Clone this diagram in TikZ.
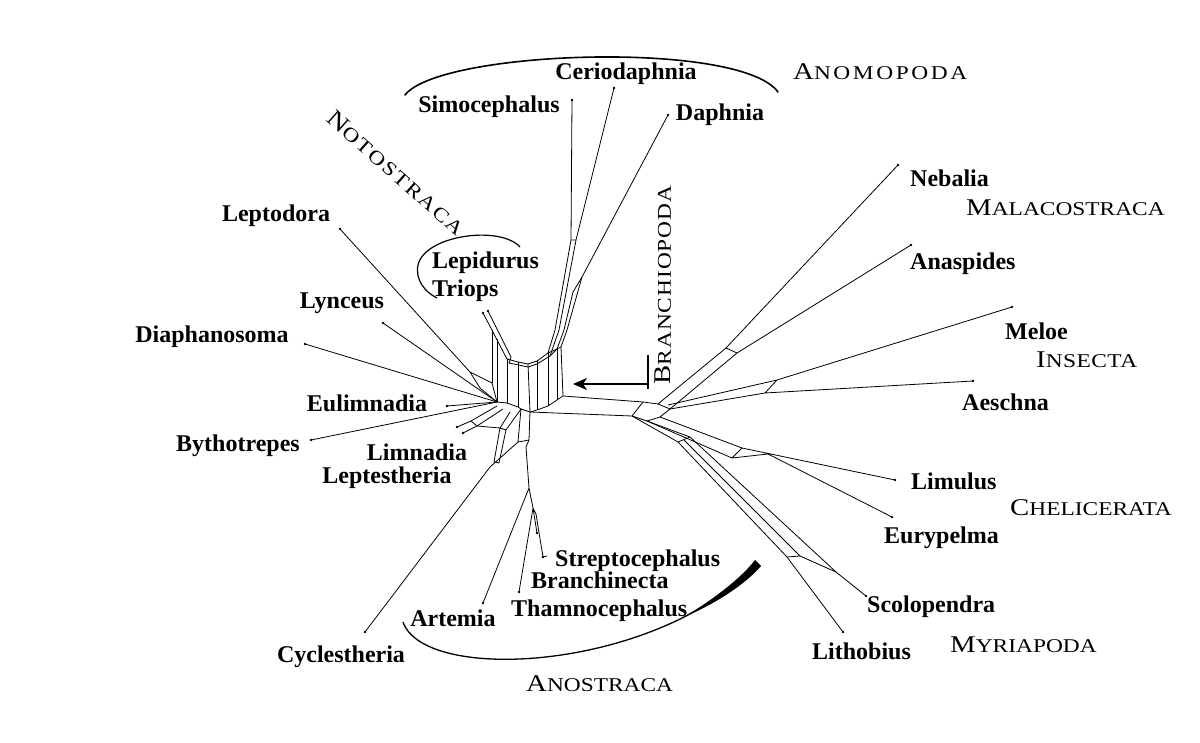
\documentclass[tikz,border=0pt]{standalone}
\usepackage{fontspec}
\usepackage{graphicx}
\setmainfont{Liberation Serif}
\usetikzlibrary{arrows.meta,calc,positioning}
\newcommand{\grp}[3][0]{\scalebox{1.2}[1]{\addfontfeatures{LetterSpace=#1}\fontsize{24}{24}\selectfont #2\fontsize{19.5}{19.5}\selectfont #3}}
\tikzset{
  taxon/.style={font=\fontsize{24}{24}\selectfont\bfseries,inner sep=0pt},
  clade/.style={inner sep=0pt},
  edge/.style={line width=0.8pt},
  bracket/.style={line width=1.6pt,line cap=round}
}

\begin{document}
\begin{tikzpicture}[x=1pt,y=-1pt]
  \useasboundingbox (0,0) rectangle (1200,743);
  % leaf ends
  \foreach \n/\x/\y in {simo/572/100, cerio/614/88, daph/668/115, lepto/340/229, lync/383/323, diaph/305/344,
      eulim/447/406, bytho/311/440, limna/457/427, lepte/463/433, cycl/365/632, artem/483/603, thamno/519/592,
      branchi/537/533, strepto/543/557, lepid/483/313, triops/488/311, nebal/898/165, anasp/911/245,
      meloe/1012/307, aesch/973/381, limul/895/480, euryp/892/517, scolo/866/596, litho/843/632}
    {\coordinate (\n) at (\x,\y); \fill (\n) circle (1.3pt);}
  % inner splits
  \foreach \n/\x/\y in {h0/497/402, b1/507/403, b2/518/407, b3/530/412, b4/537/410, b5/548/406, b6/557/400, b7/563/396,
      t1/507/359, t2/518/362, t3/528/364, t4/537/361, t5/548/353, t6/557/349, t7/561/347,
      u1/509/363, u2/528/367, u3/537/364, u4/550/356, n2/511/357, v1/492/330, v1b/492/383, v2/497/339, v2b/497/396,
      d1/555/330, d2/559/330, d3/564/330, d4/567/330, d5/571/240, d6/576/240, d7/573/292, d8/582/277,
      r1/643/402, r2/658/404, r3/632/416, r4/647/421, r5/660/417, r6/670/409,
      m0/664/399, m1/726/348, m2/737/353, i0/668/405, i1/765/393, i2/777/380,
      c1/742/448, c2/732/458, c3/768/454, y0/684/440, y1/678/442, y2/690/437, y3/836/572, y4/787/557, y5/800/556,
      l1/470/372, l2/480/388, k1/497/406, k2/503/409, k3/510/412, g0/471/421, g1/477/426, g2/500/428, g3/494/462,
      g4/506/430, g5/499/463, a1/521/409, a2/518/442, a3/529/440, a4/526/447, a5/529/488, a6/533/508, a7/536/514,
      cy/490/467, sp/547/556}
    {\coordinate (\n) at (\x,\y);}
  \draw[edge] (lepid) -- (t1) -- (t2) -- (t3) -- (t4) -- (t5) -- (t6) -- (t7);
  \draw[edge] (triops) -- (n2) -- (u1) -- (u2) -- (u3) -- (u4) -- (t6);
  \draw[edge] (h0) -- (b1) -- (b2) -- (a1) -- (b3) -- (b4) -- (b5) -- (b6) -- (b7);
  \foreach \p/\q in {t1/b1, t2/b2, t3/b3, t4/b4, t5/b5, t6/b6, t7/b7, v1/v1b, v2/v2b, v1b/h0, v2b/h0}
    \draw[edge] (\p) -- (\q);
  \draw[edge] (t5) -- (d1) -- (d5) -- (simo);
  \draw[edge] (u4) -- (d2) -- (d6) -- (cerio);
  \draw[edge] (t7) -- (d4) -- (d8) -- (daph);
  \draw[edge] (t6) -- (d3) -- (d7) -- (d8) (d5) -- (d6);
  \draw[edge] (b7) -- (r1) -- (r2) -- (m0) -- (m1) -- (nebal);
  \draw[edge] (b3) -- (r3) -- (r4) -- (r5) -- (r6) -- (r2) (r1) -- (r3);
  \draw[edge] (r6) -- (m2) -- (anasp) (m1) -- (m2);
  \draw[edge] (r6) -- (i1) -- (aesch) (i0) -- (i2) -- (meloe) (i1) -- (i2);
  \draw[edge] (r5) -- (c1) -- (limul) (r4) -- (c2) -- (c3) -- (euryp) (c1) -- (c2);
  \draw[edge] (r4) -- (y2) -- (y3) -- (scolo) (r3) -- (y1) -- (y4) -- (litho) (y1) -- (y2);
  \draw[edge] (y0) -- (y5) -- (y3) (y4) -- (y5);
  \draw[edge] (lepto) -- (l1) -- (v1b) (l1) -- (l2) -- (h0);
  \foreach \t in {lync, diaph, eulim, bytho} \draw[edge] (\t) -- (h0);
  \draw[edge] (k1) -- (g0) -- (limna) (k2) -- (g1) -- (lepte) (g0) -- (g1);
  \draw[edge] (k3) -- (g2) -- (g3) (a1) -- (g4) -- (g5) (g2) -- (g4) (g3) -- (g5) (g1) -- (g2);
  \draw[edge] (a1) -- (a2) -- (cy) -- (cycl) (b3) -- (a3) -- (a4) (a2) -- (a3);
  \draw[edge] (a4) -- (a5) -- (artem) (a5) -- (a6) -- (thamno) (a6) -- (branchi) (a6) -- (a7) -- (strepto) -- (sp);
  % taxa
  \node[taxon] (tsimo) at (489,107) {Simocephalus};
  \node[taxon] (tcerio) at (626,74) {Ceriodaphnia};
  \node[taxon] (tdaph) at (720,115) {Daphnia};
  \node[taxon] (tlepto) at (276,216) {Leptodora};
  \node[taxon,anchor=west] (tlepid) at (432,263) {Lepidurus};
  \node[taxon,anchor=west] (ttriops) at (432,291) {Triops};
  \node[taxon] (tlync) at (342,303) {Lynceus};
  \node[taxon] (tdiaph) at (212,337) {Diaphanosoma};
  \node[taxon] (teulim) at (367,403) {Eulimnadia};
  \node[taxon] (tbytho) at (238,446) {Bythotrepes};
  \node[taxon] (tlimna) at (417,452) {Limnadia};
  \node[taxon] (tlepte) at (387,478) {Leptestheria};
  \node[taxon,anchor=west] (tstrepto) at (555,561) {Streptocephalus};
  \node[taxon,anchor=west] (tbranchi) at (531,580) {Branchinecta};
  \node[taxon,anchor=west] (tthamno) at (511,611) {Thamnocephalus};
  \node[taxon] (tartem) at (453,618) {Artemia};
  \node[taxon] (tcycl) at (341,657) {Cyclestheria};
  \node[taxon,anchor=west] (tnebal) at (910,178) {Nebalia};
  \node[taxon,anchor=west] (tanasp) at (910,264) {Anaspides};
  \node[taxon,anchor=west] (tmeloe) at (1005,331) {Meloe};
  \node[taxon,anchor=west] (taesch) at (962,402) {Aeschna};
  \node[taxon,anchor=west] (tlimul) at (911,481) {Limulus};
  \node[taxon,anchor=west] (teuryp) at (884,538) {Eurypelma};
  \node[taxon,anchor=west] (tscolo) at (867,607) {Scolopendra};
  \node[taxon,anchor=west] (tlitho) at (812,651) {Lithobius};
  % clades
  \node[clade,anchor=west] (anomo) at (793,72) {\grp[11]{A}{NOMOPODA}};
  \node[clade,rotate=-41.5] (noto) at (396,173) {\grp[8]{N}{OTOSTRACA}};
  \node[clade,rotate=90] (branchio) at (663,285) {\grp[4]{B}{RANCHIOPODA}};
  \node[clade,anchor=west] (mala) at (966,208) {\grp{M}{ALACOSTRACA}};
  \node[clade,anchor=west] (insec) at (1036,360) {\grp[2]{I}{NSECTA}};
  \node[clade,anchor=west] (cheli) at (1010,508) {\grp{C}{HELICERATA}};
  \node[clade,anchor=west] (myria) at (950,645) {\grp{M}{YRIAPODA}};
  \node[clade,anchor=west] (anost) at (526,684) {\grp{A}{NOSTRACA}};
  % brackets
  \draw[bracket] (405,95) .. controls (440,50) and (740,40) .. (778,92);
  \draw[line width=1.2pt] (520,247) .. controls (500,225) and (425,235) .. (418,265) .. controls (415,280) and (425,292) .. (437,298);
  \draw[line width=1.3pt] (403,622) .. controls (425,685) and (660,670) .. (758,563);
  \fill (685,616) .. controls (705,605) and (740,580) .. (755,560) -- (761,566) .. controls (745,585) and (710,607) .. (685,616) -- cycle;
  \coordinate (bar) at (648,384);
  \draw[line width=2.2pt] (648,355) -- (648,389);
  \draw[line width=1.8pt,-{Stealth[length=14pt,width=12pt,inset=4pt]}] (bar) -- (573,384);
\end{tikzpicture}
\end{document}
